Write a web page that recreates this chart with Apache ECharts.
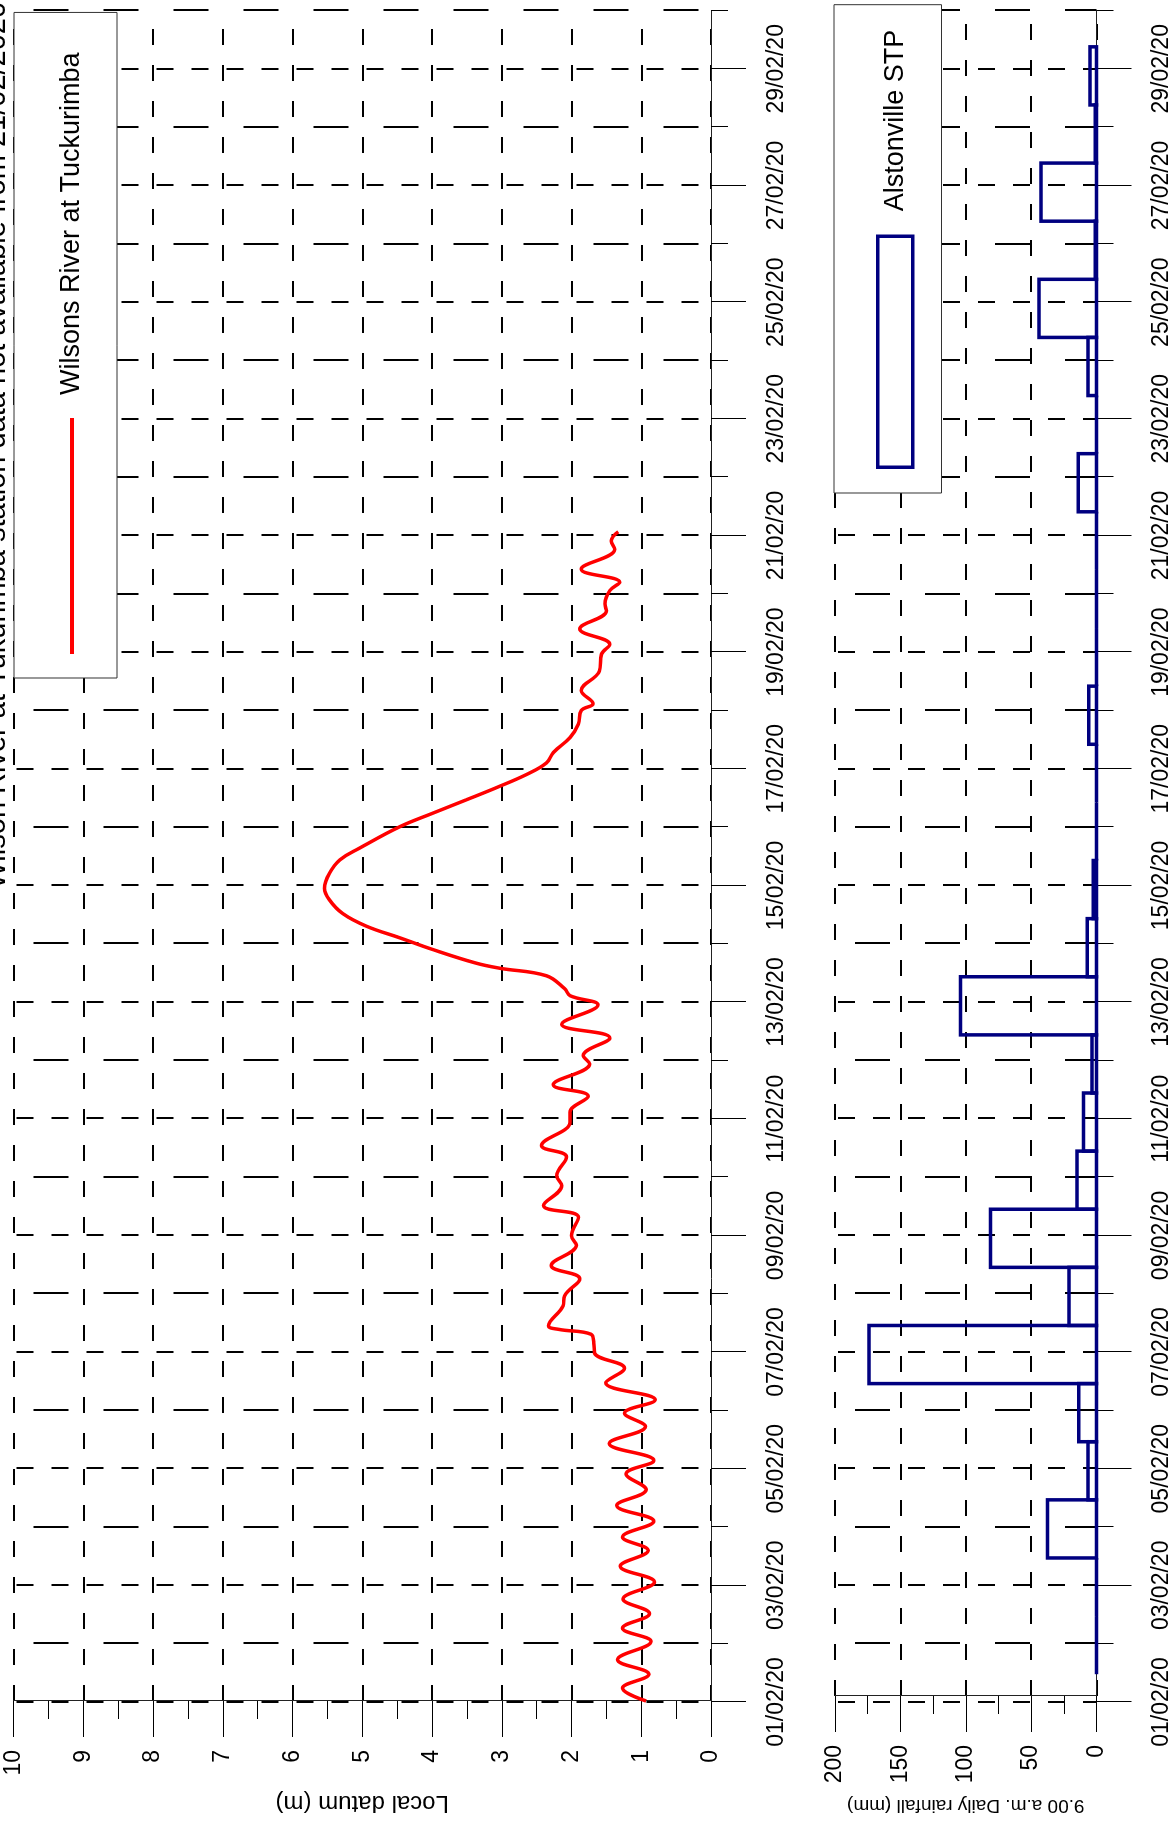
<!DOCTYPE html>
<html>
<head>
<meta charset="utf-8">
<script src="https://cdn.jsdelivr.net/npm/echarts@6/dist/echarts.min.js"></script>
<style>
  html, body { margin: 0; padding: 0; width: 1176px; height: 1823px; overflow: hidden; background: #fff; }
  /* the figure is laid out landscape and turned a quarter turn anticlockwise */
  #chart { position: absolute; left: 0; top: 0; width: 1823px; height: 1176px;
           transform-origin: 0 0; transform: translateY(1823px) rotate(-90deg); background: #fff; }
</style>
</head>
<body>
<div id="chart"></div>
<script>
// ---- data ----
const dateLabels = ['01/02/20', '03/02/20', '05/02/20', '07/02/20', '09/02/20', '11/02/20', '13/02/20',
  '15/02/20', '17/02/20', '19/02/20', '21/02/20', '23/02/20', '25/02/20', '27/02/20', '29/02/20'];

// Wilsons River at Tuckurimba: hours after 01/02/2020 00:00 and level (m, local datum)
const levelHour = [0, 5.3, 11, 17, 24.5, 30, 36, 42, 49, 55.5,
  62, 67.5, 74, 80.5, 87, 93.5, 99, 106, 113, 118.5,
  124, 131, 137, 143.3, 147.4, 151, 153, 154.5, 162.7, 166.8,
  173.8, 179.3, 187.7, 191.5, 199.2, 204, 212.2, 216.2, 224, 228.7,
  238.3, 242.4, 249, 253.7, 262.3, 265.7, 273, 278.6, 286.6, 290.4,
  293.3, 298.6, 301.7, 303.8, 309.4, 314.2, 319, 324.2, 329.8, 334.6,
  340.8, 346.3, 351.1, 360, 365.5, 371, 376.6, 381.4, 386.2, 390.5,
  396.7, 402.2, 407.8, 410.6, 416, 424, 431, 435, 441.4, 448.8,
  451.7, 457.2, 460.6, 466, 474.2, 477.6, 481.4];
const levelM = [0.93, 1.27, 0.89, 1.34, 0.86, 1.27, 0.88, 1.26, 0.81, 1.30,
  0.90, 1.27, 0.82, 1.35, 0.93, 1.22, 0.82, 1.46, 0.94, 1.24,
  0.80, 1.51, 1.24, 1.67, 1.68, 1.72, 2.18, 2.33, 2.12, 2.10,
  1.88, 2.29, 1.93, 2.00, 1.90, 2.40, 2.14, 2.21, 2.07, 2.43,
  2.02, 2.02, 1.76, 2.26, 1.74, 1.83, 1.45, 2.14, 1.62, 2.02,
  2.10, 2.36, 3.03, 3.37, 3.99, 4.46, 4.94, 5.28, 5.47, 5.54,
  5.47, 5.32, 5.04, 4.46, 3.99, 3.51, 3.03, 2.65, 2.36, 2.26,
  2.02, 1.90, 1.86, 1.69, 1.86, 1.60, 1.57, 1.45, 1.88, 1.50,
  1.52, 1.45, 1.31, 1.86, 1.38, 1.43, 1.33];

// Alstonville STP: 24 h rainfall from 9 a.m. on each February day (mm)
const rainDay = [1, 2, 3, 4, 5, 6, 7, 8, 9, 10, 11, 12, 13, 14,
  15, 16, 17, 18, 19, 20, 21, 22, 23, 24, 25, 26, 27, 28];
const rainMm = [0, 0, 37.5, 6.5, 13.5, 174, 21, 81, 15, 10, 3.5, 104, 7, 2.5,
  0, 0, 6, 0, 0, 0, 14, 0, 6.5, 44, 1, 42.5, 1, 5];

// ---- layout & style ----
const FONT = '"Liberation Sans", Arial, sans-serif';
const NAVY = '#000080';
const RED = '#ff0000';
const PLOT_LEFT = 121, PLOT_W = 1691.5, N_DAYS = 29;
const DAY_W = PLOT_W / N_DAYS;
const panels = [
  { top: 13.5, height: 697.5, max: 10, interval: 1, name: 'Local datum (m)', nameGap: 90, nameSize: 24 },
  { top: 835, height: 261.5, max: 200, interval: 50, name: '9.00 a.m. Daily rainfall (mm)', nameGap: 100, nameSize: 19 }
];

const grid = [], xAxis = [], yAxis = [];
panels.forEach((p, k) => {
  // main plotting frame
  grid.push({ left: PLOT_LEFT, top: p.top, width: PLOT_W, height: p.height });
  // labelled days (01/02, 03/02 ... 29/02)
  grid.push({ left: PLOT_LEFT, top: p.top, width: DAY_W * 28, height: p.height });
  // in-between days (02/02 ... 01/03)
  grid.push({ left: PLOT_LEFT + DAY_W, top: p.top, width: DAY_W * 28, height: p.height });
  const g = k * 3;

  xAxis.push({
    gridIndex: g, type: 'value', min: 0, max: N_DAYS,
    axisLine: { show: true, onZero: true, lineStyle: { color: '#222', width: 1 } },
    axisTick: { show: false }, axisLabel: { show: false }, splitLine: { show: false }
  });
  xAxis.push({
    gridIndex: g + 1, type: 'value', min: 0, max: 28, interval: 2, position: 'bottom',
    axisLine: { show: false },
    axisTick: { show: true, length: 35, lineStyle: { color: '#000', width: 1 } },
    axisLabel: { show: true, margin: 54, fontSize: 23, color: '#000', fontFamily: FONT,
      formatter: v => dateLabels[Math.round(v / 2)] },
    splitLine: { show: true, lineStyle: { color: '#000', width: 2, type: [17, 18], dashOffset: 32 } }
  });
  xAxis.push({
    gridIndex: g + 2, type: 'value', min: 0, max: 28, interval: 2, position: 'bottom',
    axisLine: { show: false },
    axisTick: { show: true, length: 17, lineStyle: { color: '#000', width: 1 } },
    axisLabel: { show: false },
    splitLine: { show: true, lineStyle: { color: '#000', width: 2, type: [35, 35], dashOffset: 50 } }
  });

  yAxis.push({
    gridIndex: g, type: 'value', min: 0, max: p.max, interval: p.interval,
    name: p.name, nameLocation: 'middle', nameGap: p.nameGap,
    nameTextStyle: { fontSize: p.nameSize, color: '#000', fontFamily: FONT },
    axisLine: { show: true, onZero: true, lineStyle: { color: '#222', width: 1 } },
    axisTick: { show: true, length: 36, lineStyle: { color: '#000', width: 1 } },
    minorTick: { show: true, splitNumber: 2, length: 18, lineStyle: { color: '#000', width: 1 } },
    axisLabel: { margin: 49, fontSize: 23, color: '#000', fontFamily: FONT },
    splitLine: { show: true, lineStyle: { color: '#000', width: 2, type: [16, 20] } }
  });
  yAxis.push({ gridIndex: g + 1, type: 'value', min: 0, max: 1, show: false });
  yAxis.push({ gridIndex: g + 2, type: 'value', min: 0, max: 1, show: false });
});

const levelData = levelHour.map((h, i) => [h / 24, levelM[i]]);
// each rainfall total spans 9 a.m. to 9 a.m. the next day
const rainData = rainDay.map((d, i) => [d - 1 + 0.375, d + 0.375, rainMm[i]]);

const legendBox = { backgroundColor: '#fff', borderColor: '#333', borderWidth: 1, selectedMode: false, orient: 'horizontal' };

const option = {
  animation: false,
  backgroundColor: '#fff',
  title: {
    text: 'Wilson River at Tukurimba station data not available from 21/02/2020',
    left: 934, top: -18, padding: 0,
    textStyle: { fontSize: 29, fontWeight: 'normal', color: '#000', fontFamily: FONT }
  },
  legend: [
    Object.assign({
      data: [{ name: 'Wilsons River at Tuckurimba', icon: 'rect', itemStyle: { color: RED } }],
      left: 1145, top: 14, itemWidth: 236, itemHeight: 4, padding: [40, 40, 27, 24],
      textStyle: { fontSize: 27, lineHeight: 36, color: '#000', fontFamily: FONT, padding: [0, 0, 0, 18] }
    }, legendBox),
    Object.assign({
      data: [{ name: 'Alstonville STP', icon: 'rect',
        itemStyle: { color: 'rgba(0,0,0,0)', borderColor: NAVY, borderWidth: 3.5 } }],
      left: 1330, top: 834, itemWidth: 231, itemHeight: 35, padding: [42, 25, 27, 24],
      textStyle: { fontSize: 27, lineHeight: 36, color: '#000', fontFamily: FONT, padding: [0, 0, 0, 20] }
    }, legendBox)
  ],
  grid, xAxis, yAxis,
  series: [
    {
      name: 'Wilsons River at Tuckurimba', type: 'line', xAxisIndex: 0, yAxisIndex: 0,
      data: levelData, symbol: 'none', smooth: 0.4,
      lineStyle: { color: RED, width: 3.5 }, itemStyle: { color: RED }, z: 5
    },
    {
      name: 'Alstonville STP', type: 'custom', xAxisIndex: 3, yAxisIndex: 3,
      data: rainData, itemStyle: { color: NAVY }, z: 5,
      renderItem: (params, api) => {
        const top = api.coord([api.value(0), api.value(2)]);
        const base = api.coord([api.value(1), 0]);
        return {
          type: 'rect',
          shape: { x: top[0], y: top[1], width: base[0] - top[0], height: base[1] - top[1] },
          style: { fill: 'none', stroke: NAVY, lineWidth: 3.5 }
        };
      }
    }
  ]
};

const chart = echarts.init(document.getElementById('chart'), null, { renderer: 'canvas' });
chart.setOption(option);
</script>
</body>
</html>
